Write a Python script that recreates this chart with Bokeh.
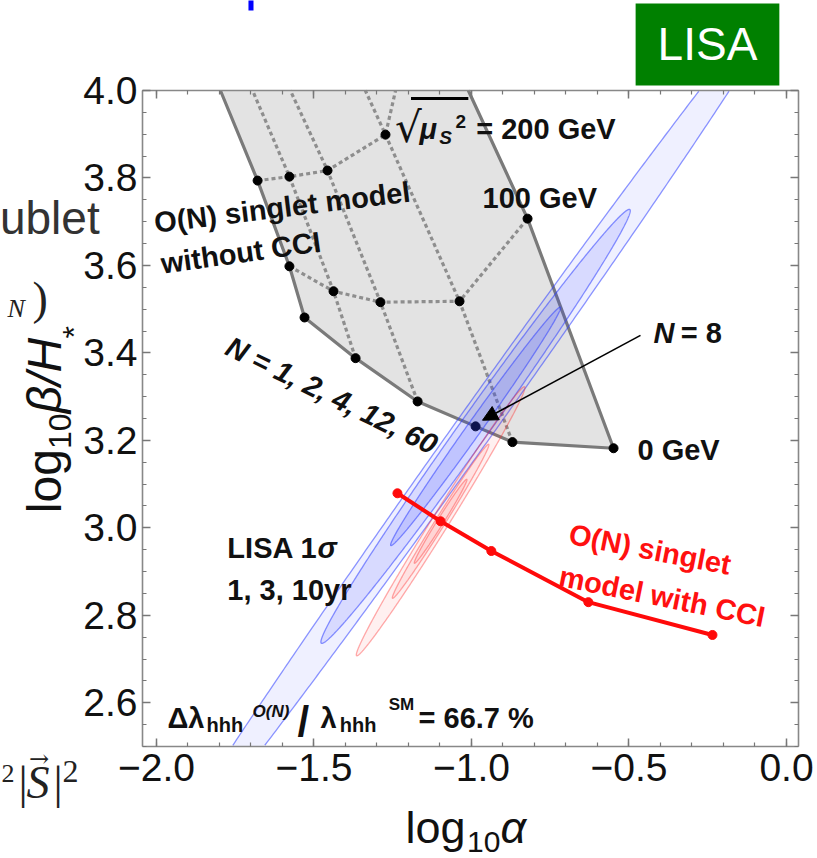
import numpy as np
from bokeh.plotting import figure
from bokeh.models import (Range1d, LinearAxis, FixedTicker, CustomJSTickFormatter,
                          CustomLabelingPolicy, Label, Arrow, NormalHead, BoxAnnotation)
from bokeh.embed import file_html
from bokeh.resources import INLINE

# ---------------- data ----------------
# O(N) singlet model without CCI: lines of constant N
# (points at sqrt(mu_S^2) = 0, 100, 200 GeV, last point where the line leaves the frame)
n1_x = [-1.530, -1.578, -1.679, -1.797]
n1_y = [3.481, 3.598, 3.794, 4.0]
n2_x = [-1.368, -1.438, -1.578, -1.695]
n2_y = [3.388, 3.541, 3.803, 4.0]
n4_x = [-1.171, -1.289, -1.457, -1.575]
n4_y = [3.289, 3.516, 3.817, 4.0]
n12_x = [-0.870, -1.038, -1.273, -1.337]
n12_y = [3.196, 3.518, 3.899, 4.0]
n60_x = [-0.549, -0.822, -1.010]
n60_y = [3.182, 3.707, 4.0]
# lines of constant sqrt(mu_S^2); the 0 GeV line runs over N = 1, 2, 4, 8, 12, 60
mu0_x = [-1.530, -1.368, -1.171, -0.987, -0.870, -0.549]
mu0_y = [3.481, 3.388, 3.289, 3.232, 3.196, 3.182]
mu100_x = [-1.578, -1.438, -1.289, -1.038, -0.822]
mu100_y = [3.598, 3.541, 3.516, 3.518, 3.707]
mu200_x = [-1.679, -1.578, -1.457, -1.273, -1.241]
mu200_y = [3.794, 3.803, 3.817, 3.899, 4.0]

# O(N) singlet model with CCI
cci_x = [-1.235, -1.098, -0.937, -0.629, -0.235]
cci_y = [3.079, 3.015, 2.947, 2.830, 2.755]

# LISA 1 sigma ellipses (1, 3, 10 yr)
lisa_center = [-0.987, 3.232]
lisa_angle_deg = 45.3
lisa_semi_major = [1.45, 0.697, 0.383]
lisa_semi_minor = [0.051, 0.040, 0.020]
cci_center = [-1.098, 3.015]
cci_angle_deg = 49.0
cci_semi_major = [0.407, 0.233, 0.127]
cci_semi_minor = [0.024, 0.014, 0.009]

x_major = [-2.0, -1.5, -1.0, -0.5, 0.0]
x_minor = [round(-2.0 + 0.1 * i, 2) for i in range(21)]
y_major = [2.6, 2.8, 3.0, 3.2, 3.4, 3.6, 3.8, 4.0]
y_minor = [round(2.5 + 0.05 * i, 2) for i in range(31)]

# plot box (data) and the page around it
XMIN, XMAX, YMIN, YMAX = -2.0444, 0.0381, 2.5, 4.0
PX_PER_X = 315.0
PX_PER_Y = 437.333

FONT = "Liberation Sans"
GRAY_SOLID = "#7a7a7a"
GRAY_DASH = "#8e8e8e"
W, H = 817, 858
LEFT, TOP = 142, 90

p = figure(width=W, height=H, output_backend="svg", toolbar_location=None,
           x_range=Range1d(XMIN - LEFT / PX_PER_X, XMIN + (W - LEFT) / PX_PER_X),
           y_range=Range1d(YMAX - (H - TOP) / PX_PER_Y, YMAX + TOP / PX_PER_Y),
           min_border=0)
p.title.visible = False
p.background_fill_color = "white"
p.border_fill_color = "white"
p.outline_line_color = None
p.grid.visible = False

fmt = CustomJSTickFormatter(code="return (tick < -1e-9 ? '\\u2212' : '') + Math.abs(tick).toFixed(1);")


def style_axis(ax, labels=True):
    ax.axis_line_color = "#888888"
    ax.axis_line_width = 1.6
    ax.major_tick_line_color = "#777777"
    ax.minor_tick_line_color = "#777777"
    ax.major_tick_line_width = 1.5
    ax.minor_tick_line_width = 1.2
    ax.major_tick_in = 8
    ax.major_tick_out = 0
    ax.minor_tick_in = 4
    ax.minor_tick_out = 0
    ax.major_label_text_font = FONT
    ax.major_label_text_font_size = "39px"
    ax.major_label_text_color = "#111111"
    ax.axis_label = None
    ax.formatter = fmt
    if not labels:
        ax.major_label_policy = CustomLabelingPolicy(code="return new Set();")


xa = p.xaxis[0]
ya = p.yaxis[0]
xa.ticker = FixedTicker(ticks=x_major, minor_ticks=x_minor)
ya.ticker = FixedTicker(ticks=y_major, minor_ticks=y_minor)
style_axis(xa)
style_axis(ya)
xa.fixed_location = YMIN
ya.fixed_location = XMIN
xa.bounds = (XMIN, XMAX)
ya.bounds = (YMIN, YMAX)
xa.major_label_standoff = 8
ya.major_label_standoff = 5

top = LinearAxis(ticker=FixedTicker(ticks=x_major, minor_ticks=x_minor), fixed_location=YMAX, bounds=(XMIN, XMAX))
right = LinearAxis(ticker=FixedTicker(ticks=y_major, minor_ticks=y_minor), fixed_location=XMAX, bounds=(YMIN, YMAX))
style_axis(top, labels=False)
style_axis(right, labels=False)
p.add_layout(top, "above")
p.add_layout(right, "right")

# ---------------- gray region ----------------
poly_x = n1_x[::-1] + mu0_x[1:] + n60_x[1:]
poly_y = n1_y[::-1] + mu0_y[1:] + n60_y[1:]
p.patch(poly_x, poly_y, fill_color="#e3e3e3", line_color=None)

for xs, ys in [(n2_x, n2_y), (n4_x, n4_y), (n12_x, n12_y), (mu100_x, mu100_y), (mu200_x, mu200_y)]:
    p.line(xs, ys, line_color=GRAY_DASH, line_width=3.2, line_dash="4 3")
for xs, ys in [(n1_x, n1_y), (n60_x, n60_y), (mu0_x, mu0_y)]:
    p.line(xs, ys, line_color=GRAY_SOLID, line_width=3.2)

dots_x = mu0_x + mu100_x + mu200_x[:4]
dots_y = mu0_y + mu100_y + mu200_y[:4]
p.scatter(dots_x, dots_y, size=9, color="black")


# ---------------- ellipses ----------------
def ellipse(c, a, b, deg):
    t = np.linspace(0, 2 * np.pi, 721)
    th = np.deg2rad(deg)
    x = c[0] + a * np.cos(t) * np.cos(th) - b * np.sin(t) * np.sin(th)
    y = c[1] + a * np.cos(t) * np.sin(th) + b * np.sin(t) * np.cos(th)
    return x, y


def clip_to_box(xs, ys):
    pts = list(zip(xs, ys))

    def clip(pts, inside, cut):
        out = []
        for i in range(len(pts)):
            cur, prev = pts[i], pts[i - 1]
            if inside(cur):
                if not inside(prev):
                    out.append(cut(prev, cur))
                out.append(cur)
            elif inside(prev):
                out.append(cut(prev, cur))
        return out

    def cx(p0, p1, xv):
        t = (xv - p0[0]) / (p1[0] - p0[0])
        return (xv, p0[1] + t * (p1[1] - p0[1]))

    def cy(p0, p1, yv):
        t = (yv - p0[1]) / (p1[1] - p0[1])
        return (p0[0] + t * (p1[0] - p0[0]), yv)

    pts = clip(pts, lambda q: q[0] >= XMIN, lambda a, b: cx(a, b, XMIN))
    pts = clip(pts, lambda q: q[0] <= XMAX, lambda a, b: cx(a, b, XMAX))
    pts = clip(pts, lambda q: q[1] >= YMIN, lambda a, b: cy(a, b, YMIN))
    pts = clip(pts, lambda q: q[1] <= YMAX, lambda a, b: cy(a, b, YMAX))
    return [q[0] for q in pts], [q[1] for q in pts]


def draw_ellipse(c, a, b, deg, color, fill_alpha, line_alpha):
    ex, ey = ellipse(c, a, b, deg)
    fx, fy = clip_to_box(ex, ey)
    p.patch(fx, fy, fill_color=color, fill_alpha=fill_alpha, line_color=None)
    inside = (ex >= XMIN) & (ex <= XMAX) & (ey >= YMIN) & (ey <= YMAX)
    lx = np.where(inside, ex, np.nan)
    ly = np.where(inside, ey, np.nan)
    p.line(lx, ly, line_color=color, line_alpha=line_alpha, line_width=1.3)


for a, b, fa in zip(lisa_semi_major, lisa_semi_minor, [0.08, 0.12, 0.14]):
    draw_ellipse(lisa_center, a, b, lisa_angle_deg, "#3040ff", fa, 0.55)
for a, b in zip(cci_semi_major, cci_semi_minor):
    draw_ellipse(cci_center, a, b, cci_angle_deg, "#ff2525", 0.07, 0.38)

# CCI line
p.line(cci_x, cci_y, line_color="#ff0a0a", line_width=4)
p.scatter(cci_x, cci_y, size=9, color="#ff0a0a")

# N = 8 arrow
p.add_layout(Arrow(end=NormalHead(size=15, fill_color="black", line_color="black"),
                   x_start=-0.4635, y_start=3.440, x_end=-0.965, y_end=3.246,
                   line_color="black", line_width=1.6))

# ---------------- texts ----------------
SHIFT = 0.33  # the alphabetic anchor is drawn this many em low; move the anchor up to compensate


def lab(x, y, text, size=29, style="bold", color="#111111", angle=0.0, font=FONT,
        align="left", baseline="alphabetic"):
    d = SHIFT * size if baseline == "alphabetic" else 0.0
    x = x - np.sin(angle) * d / PX_PER_X
    y = y + np.cos(angle) * d / PX_PER_Y
    p.add_layout(Label(x=x, y=y, text=text, text_font=font, text_font_size=f"{size}px",
                       text_font_style=style, text_color=color, angle=angle,
                       text_align=align, text_baseline=baseline))


lab(-2.003, 3.6755, "O(N) singlet model", angle=0.122)
lab(-1.981, 3.582, "without CCI", angle=0.14)
lab(-1.787, 3.399, "N = 1, 2, 4, 12, 60", style="bold italic", angle=-0.454)
lab(-0.422, 3.424, "N", style="bold italic")
lab(-0.336, 3.424, "= 8")
lab(-0.473, 3.155, "0 GeV")
lab(-0.965, 3.733, "100 GeV")
lab(-0.985, 3.890, "= 200 GeV")
lab(-1.243, 3.884, "\u221a", size=42, style="normal", font="DejaVu Sans")
lab(-1.165, 3.890, "\u03bc", style="bold italic")
lab(-1.102, 3.879, "S", size=19, style="bold italic")
lab(-1.051, 3.915, "2", size=19)
p.add_layout(BoxAnnotation(left=-1.192, right=-1.010, bottom=3.978, top=3.985,
                           fill_color="black", fill_alpha=1.0, line_color=None))

lab(-1.775, 2.933, "LISA 1")
lab(-1.489, 2.933, "\u03c3", style="bold italic")
lab(-1.775, 2.835, "1, 3, 10yr")

lab(-1.965, 2.5443, "\u0394\u03bb")
lab(-1.8413, 2.533, "hhh", size=20)
lab(-1.695, 2.567, "O(N)", size=17, style="bold italic")
lab(-1.552, 2.526, "/", size=42)
lab(-1.479, 2.5443, "\u03bb")
lab(-1.418, 2.533, "hhh", size=20)
lab(-1.263, 2.583, "SM", size=17)
lab(-1.168, 2.5443, "= 66.7 %")

lab(-0.695, 2.965, "O(N) singlet", color="#ff1010", angle=-0.192)
lab(-0.727, 2.869, "model with CCI", color="#ff1010", angle=-0.20)

# axis titles
lab(-1.2095, 2.2805, "log", size=45, style="normal")
lab(-1.014, 2.2599, "10", size=30, style="normal")
lab(-0.908, 2.2805, "\u03b1", size=45, style="italic")

lab(-2.305, 3.0334, "log", size=48, style="normal", angle=np.pi / 2)
lab(-2.273, 3.180, "10", size=32, style="normal", angle=np.pi / 2)
lab(-2.305, 3.262, "\u03b2/H", size=48, style="italic", angle=np.pi / 2)
lab(-2.229, 3.433, "*", size=32, style="normal", angle=np.pi / 2)

# pieces of the surrounding slide
p.add_layout(Label(x=-0.2508, y=4.1052, text="LISA", text_font=FONT, text_font_size="46px",
                   text_color="white", text_align="center", text_baseline="middle",
                   background_fill_color="#008000", padding=(22, 15)))
lab(-2.497, 3.673, "ublet", size=46, style="normal", color="#333333")
lab(-2.473, 3.483, "N", size=26, style="italic", font="Liberation Serif", color="#222222")
lab(-2.394, 3.490, ")", size=46, style="normal", font="Liberation Serif", color="#222222")
lab(-2.4921, 2.4177, "2", size=26, style="normal", font="Liberation Serif", color="#222222")
lab(-2.4381, 2.3834, "|", size=46, style="normal", font="Liberation Serif", color="#222222")
lab(-2.4127, 2.3834, "S", size=46, style="italic", font="Liberation Serif", color="#222222")
lab(-2.405, 2.4543, "\u2192", size=24, style="normal", font="DejaVu Serif", color="#222222")
lab(-2.327, 2.3834, "|", size=46, style="normal", font="Liberation Serif", color="#222222")
lab(-2.2984, 2.4177, "2", size=32, style="normal", font="Liberation Serif", color="#222222")
p.add_layout(BoxAnnotation(left=-1.708, right=-1.692, bottom=4.183, top=4.25,
                           fill_color="#0000ff", fill_alpha=1.0, line_color=None))

open("out.html", "w").write(file_html(p, INLINE))
